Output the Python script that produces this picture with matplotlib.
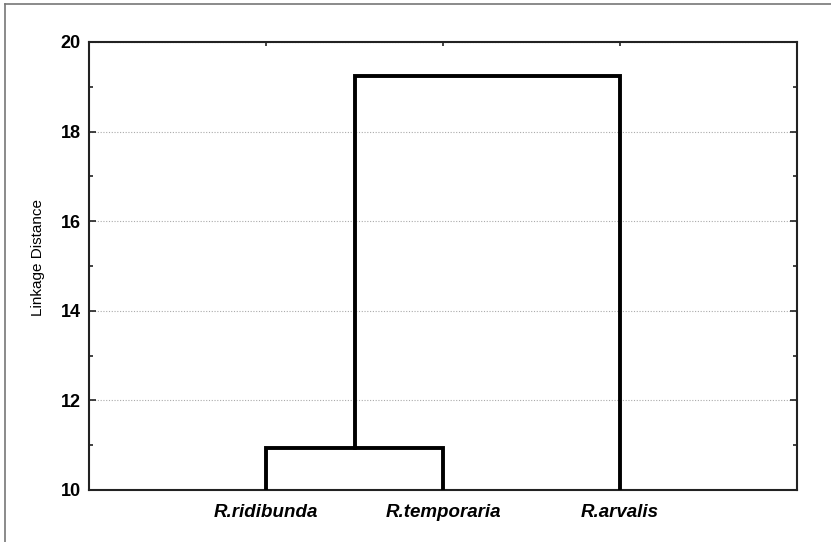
import matplotlib
matplotlib.use("Agg")
import matplotlib.pyplot as plt
from matplotlib.lines import Line2D

plt.rcParams["font.family"] = ["Liberation Sans", "DejaVu Sans"]

species = ["R.ridibunda", "R.temporaria", "R.arvalis"]
leaf_pos = [1, 2, 3]
merge1_height = 10.93   # ridibunda + temporaria
merge2_height = 19.25   # (ridibunda, temporaria) + arvalis
y_ticks = [10, 12, 14, 16, 18, 20]

fig = plt.figure(figsize=(8.31, 5.42), dpi=100)
ax = fig.add_axes([89/831, 1-490/542, (797-89)/831, (490-42)/542])

lw = 2.8
c = "black"
# first merge
ax.plot([leaf_pos[0], leaf_pos[0], leaf_pos[1], leaf_pos[1]],
        [10, merge1_height, merge1_height, 10], color=c, lw=lw, solid_joinstyle="miter", zorder=3)
mid = (leaf_pos[0] + leaf_pos[1]) / 2
ax.plot([mid, mid, leaf_pos[2], leaf_pos[2]],
        [merge1_height, merge2_height, merge2_height, 10], color=c, lw=lw, solid_joinstyle="miter", zorder=3)

ax.set_xlim(0, 4)
ax.set_ylim(10, 20)
ax.set_yticks(y_ticks)
ax.set_yticks([11, 13, 15, 17, 19], minor=True)
ax.set_yticklabels([str(v) for v in y_ticks], fontweight="bold", fontsize=13)
ax.set_xticks(leaf_pos)
ax.set_xticklabels(species, fontweight="bold", fontstyle="italic", fontsize=13.5)
ax.tick_params(axis="both", which="both", direction="in", top=True, right=True, width=1.2, color="#222222")
ax.tick_params(axis="y", which="major", length=5, pad=6)
ax.tick_params(axis="y", which="minor", length=3)
ax.tick_params(axis="x", which="major", length=3, pad=10)
ax.grid(axis="y", which="major", linestyle=(0, (1, 1.5)), color="#aaaaaa", linewidth=0.8)
for s in ax.spines.values():
    s.set_linewidth(1.5)
    s.set_color("#222222")
ax.set_ylabel("Linkage Distance", fontsize=11)
ax.yaxis.set_label_coords((45-89)/708, (490-258)/448)

# figure border (top and left)
fig.add_artist(Line2D([5/831, 1], [1-4/542, 1-4/542], transform=fig.transFigure, color="#777777", lw=1.2))
fig.add_artist(Line2D([5/831, 5/831], [0, 1-4/542], transform=fig.transFigure, color="#777777", lw=1.2))

fig.savefig("out.png", dpi=100)
